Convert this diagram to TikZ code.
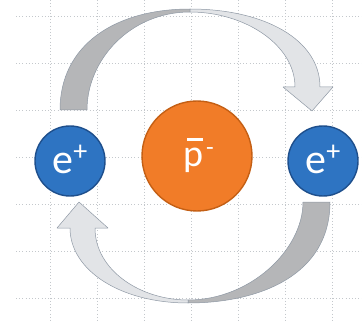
\documentclass[tikz,border=0pt]{standalone}
\usepackage{fontspec}
\setmainfont{Carlito}
\definecolor{arrowdark}{HTML}{B5B6B8}
\definecolor{arrowlight}{HTML}{E2E4E7}
\definecolor{arrowedge}{HTML}{8E98A4}
\definecolor{eblue}{HTML}{2E74C2}
\definecolor{eblueedge}{HTML}{1E4F8C}
\definecolor{porange}{HTML}{F17C28}
\definecolor{porangeedge}{HTML}{C45F14}
\definecolor{gridgray}{HTML}{C4C8CC}
\begin{document}
\begin{tikzpicture}[x=1pt,y=-1pt,
  gridline/.style={draw=gridgray, line width=0.6pt, dash pattern=on 0.8pt off 2.4pt},
  backband/.style={fill=arrowdark, draw=arrowedge, line width=0.5pt, line join=round},
  frontband/.style={fill=arrowlight, draw=arrowedge, line width=0.5pt, line join=round},
  eball/.style={circle, minimum size=70pt, inner sep=0pt, fill=eblue, draw=eblueedge, line width=1.4pt},
  pball/.style={circle, minimum size=110pt, inner sep=0pt, fill=porange, draw=porangeedge, line width=1.4pt},
  lbl/.style={text=white, inner sep=0pt, anchor=base}
]
\useasboundingbox (0,0) rectangle (362,321);
% grid
\foreach \y in {16,63,...,298} \draw[gridline] (16,\y) -- (362,\y);
\foreach \x in {50,97,...,332} \draw[gridline] (\x,0) -- (\x,321);
% top curved arrow
\path[backband] (60,110) .. controls (60,45) and (115,9) .. (190,9)
  -- (190,12) .. controls (130,12) and (87,60) .. (87,110) -- cycle;
\path[frontband] (190,9) .. controls (265,9) and (320,40) .. (320,87)
  -- (333,87) -- (312,111) -- (283,87) -- (295,87)
  .. controls (295,45) and (245,12) .. (190,12) -- cycle;
% bottom curved arrow
\path[backband] (330,202) .. controls (330,275) and (260,303) .. (188,303)
  -- (188,300) .. controls (250,300) and (303,250) .. (303,202) -- cycle;
\path[frontband] (188,303) .. controls (120,303) and (70,270) .. (70,228)
  -- (57,228) -- (79,202) -- (108,228) -- (95,228)
  .. controls (95,270) and (140,300) .. (188,300) -- cycle;
% balls
\node[eball] (eleft) at (70,161) {};
\node[eball] (eright) at (323,161) {};
\node[pball] (pbar) at (197,156) {};
% labels
\node[lbl, font=\fontsize{42}{42}\selectfont] (tleft) at (70,173)
  {e{\fontsize{28}{28}\selectfont\raisebox{13pt}{+}}};
\node[lbl, font=\fontsize{42}{42}\selectfont] (tright) at (323,173)
  {e{\fontsize{28}{28}\selectfont\raisebox{13pt}{+}}};
\node[lbl, font=\fontsize{38}{38}\selectfont] (tp) at (198.5,167)
  {\rlap{\hspace{4pt}\rule[26pt]{16pt}{3pt}}p\hspace{3pt}{\fontsize{25}{25}\selectfont\raisebox{11pt}{-}}};
\end{tikzpicture}
\end{document}
